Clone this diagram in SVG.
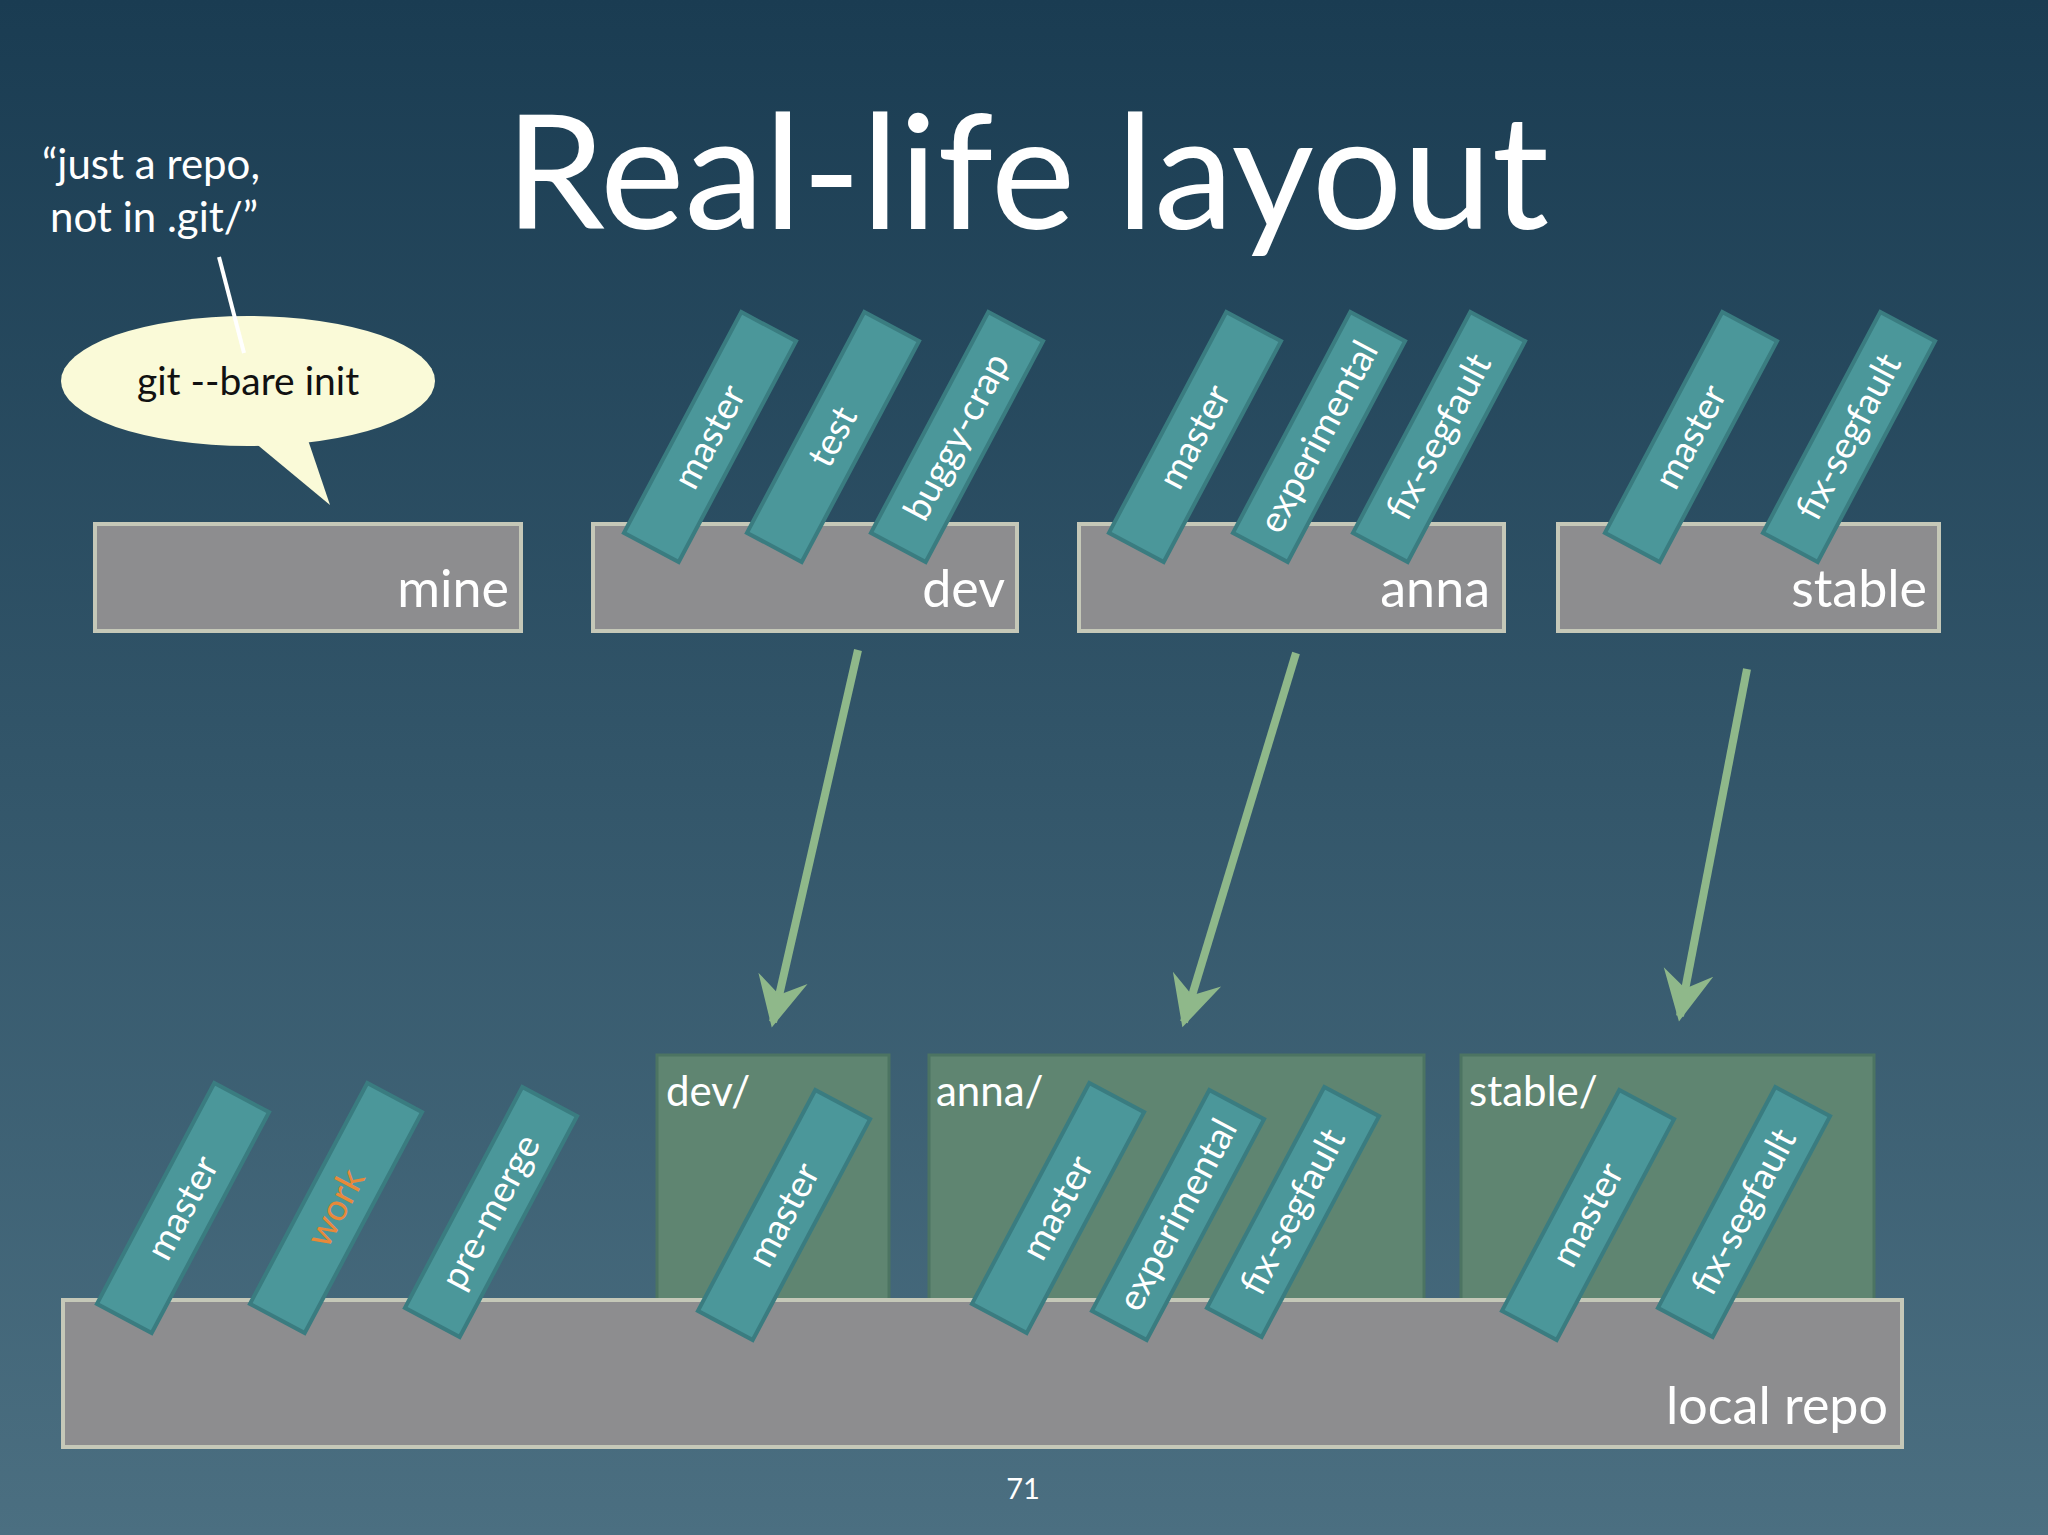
<svg xmlns="http://www.w3.org/2000/svg" width="2048" height="1535" viewBox="0 0 2048 1535">
<defs>
<linearGradient id="bg" x1="0" y1="0" x2="0" y2="1"><stop offset="0" stop-color="#1a3c52"/><stop offset="1" stop-color="#4b6f81"/></linearGradient>
<marker id="ah" viewBox="0 0 20 20" refX="16" refY="10" markerWidth="7" markerHeight="7" orient="auto" markerUnits="strokeWidth"><path d="M0,1 L18,10 L0,19 L6,10 Z" fill="#8fb88a"/></marker>
<g id="bar"><rect x="-31" y="-125" width="62" height="250" fill="#4b979a" stroke="#3a7c80" stroke-width="4"/></g>
</defs>
<style>
text{font-family:Lato,"Open Sans","Liberation Sans",sans-serif;fill:#fff}
.box{fill:#8d8d8f;stroke:#c5c8b8;stroke-width:4}
.grp{fill:#5f8571;stroke:#4c7462;stroke-width:3}
.lbl{font-size:52px;text-anchor:end}
.bt{font-size:37px;text-anchor:middle}
.gl{font-size:42px}
.arr{stroke:#8fb88a;stroke-width:8;fill:none}
</style>
<rect width="2048" height="1535" fill="url(#bg)"/>
<text x="1027" y="229" style="font-size:160px" text-anchor="middle">Real-life layout</text>
<g id="note"><text x="42" y="179" style="font-size:42px">“just a repo,</text><text x="50" y="232" style="font-size:42px">not in .git/”</text></g>
<g id="bubble">
<path d="M248,437 L330,505 L307,437 Z" fill="#fafad8"/>
<ellipse cx="248" cy="381" rx="187" ry="65" fill="#fafad8"/>
<text x="248" y="395" style="font-size:39px;fill:#111" text-anchor="middle">git --bare init</text>
</g>
<g id="connectors">
<line x1="219" y1="257" x2="244" y2="353" stroke="#fff" stroke-width="4"/>
<line class="arr" x1="858" y1="650" x2="773" y2="1022" marker-end="url(#ah)"/>
<line class="arr" x1="1296" y1="653" x2="1184" y2="1022" marker-end="url(#ah)"/>
<line class="arr" x1="1747" y1="669" x2="1680" y2="1016" marker-end="url(#ah)"/>
</g>
<g id="mine"><rect class="box" x="95" y="524" width="426" height="107"/><text class="lbl" x="509" y="607">mine</text></g>
<g id="dev"><rect class="box" x="593" y="524" width="424" height="107"/><text class="lbl" x="1005" y="607">dev</text>
<g transform="translate(710,437) rotate(28)"><use href="#bar"/><text class="bt" transform="rotate(-90)" y="12">master</text></g>
<g transform="translate(833,437) rotate(28)"><use href="#bar"/><text class="bt" transform="rotate(-90)" y="12">test</text></g>
<g transform="translate(957,437) rotate(28)"><use href="#bar"/><text class="bt" transform="rotate(-90)" y="12">buggy-crap</text></g>
</g>
<g id="anna"><rect class="box" x="1079" y="524" width="425" height="107"/><text class="lbl" x="1490" y="607">anna</text>
<g transform="translate(1195,437) rotate(28)"><use href="#bar"/><text class="bt" transform="rotate(-90)" y="12">master</text></g>
<g transform="translate(1319,437) rotate(28)"><use href="#bar"/><text class="bt" transform="rotate(-90)" y="12">experimental</text></g>
<g transform="translate(1439,437) rotate(28)"><use href="#bar"/><text class="bt" transform="rotate(-90)" y="12">fix-segfault</text></g>
</g>
<g id="stable"><rect class="box" x="1558" y="524" width="381" height="107"/><text class="lbl" x="1927" y="607">stable</text>
<g transform="translate(1691,437) rotate(28)"><use href="#bar"/><text class="bt" transform="rotate(-90)" y="12">master</text></g>
<g transform="translate(1849,437) rotate(28)"><use href="#bar"/><text class="bt" transform="rotate(-90)" y="12">fix-segfault</text></g>
</g>
<g id="local">
<rect class="grp" x="657" y="1055" width="232" height="250"/><text class="gl" x="666" y="1106">dev/</text>
<rect class="grp" x="929" y="1055" width="495" height="250"/><text class="gl" x="936" y="1106">anna/</text>
<rect class="grp" x="1461" y="1055" width="413" height="250"/><text class="gl" x="1469" y="1106">stable/</text>
<rect class="box" x="63" y="1300" width="1839" height="147"/><text class="lbl" x="1888" y="1424">local repo</text>
<g transform="translate(183,1208) rotate(28)"><use href="#bar"/><text class="bt" transform="rotate(-90)" y="12">master</text></g>
<g transform="translate(336,1208) rotate(28)"><use href="#bar"/><text class="bt" transform="rotate(-90)" y="12" style="fill:#e8893a">work</text></g>
<g transform="translate(491,1212) rotate(28)"><use href="#bar"/><text class="bt" transform="rotate(-90)" y="12">pre-merge</text></g>
<g transform="translate(784,1215) rotate(28)"><use href="#bar"/><text class="bt" transform="rotate(-90)" y="12">master</text></g>
<g transform="translate(1058,1208) rotate(28)"><use href="#bar"/><text class="bt" transform="rotate(-90)" y="12">master</text></g>
<g transform="translate(1178,1215) rotate(28)"><use href="#bar"/><text class="bt" transform="rotate(-90)" y="12">experimental</text></g>
<g transform="translate(1293,1212) rotate(28)"><use href="#bar"/><text class="bt" transform="rotate(-90)" y="12">fix-segfault</text></g>
<g transform="translate(1588,1215) rotate(28)"><use href="#bar"/><text class="bt" transform="rotate(-90)" y="12">master</text></g>
<g transform="translate(1744,1212) rotate(28)"><use href="#bar"/><text class="bt" transform="rotate(-90)" y="12">fix-segfault</text></g>
</g>
<text x="1023" y="1499" style="font-size:29px" text-anchor="middle">71</text>
</svg>
